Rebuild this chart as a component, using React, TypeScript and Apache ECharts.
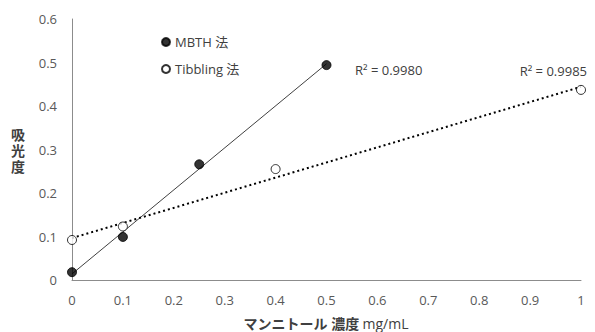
import React, { useEffect, useRef } from "react";
import * as echarts from "echarts";

const mbthX = [0, 0.1, 0.25, 0.5];
const mbthY = [0.018, 0.099, 0.266, 0.494];
const tibX = [0, 0.1, 0.4, 1];
const tibY = [0.092, 0.123, 0.255, 0.437];
const mbthName = "MBTH 法";
const tibName = "Tibbling 法";
const mbthR2 = "R² = 0.9980";
const tibR2 = "R² = 0.9985";
const xTitleBold = "マンニトール 濃度";
const xTitleUnit = "mg/mL";
const yTitle = "吸光度";

function fitLine(xs: number[], ys: number[]) {
  const n = xs.length;
  const mx = xs.reduce((a, b) => a + b, 0) / n;
  const my = ys.reduce((a, b) => a + b, 0) / n;
  let sxx = 0;
  let sxy = 0;
  for (let i = 0; i < n; i++) {
    sxx += (xs[i] - mx) * (xs[i] - mx);
    sxy += (xs[i] - mx) * (ys[i] - my);
  }
  const b = sxy / sxx;
  const a = my - b * mx;
  const x0 = Math.min(...xs);
  const x1 = Math.max(...xs);
  return [
    [x0, a + b * x0],
    [x1, a + b * x1],
  ];
}

const FONT = "'Open Sans', 'Noto Sans CJK JP', sans-serif";

export default function App() {
  const ref = useRef<HTMLDivElement>(null);
  useEffect(() => {
    if (!ref.current) return;
    const chart = echarts.init(ref.current, undefined, { renderer: "svg" });
    const pair = (xs: number[], ys: number[]) => xs.map((x, i) => [x, ys[i]]);
    const yChars = yTitle.split("");
    chart.setOption({
      animation: false,
      textStyle: { fontFamily: FONT },
      grid: {
        left: 72,
        right: 14,
        top: 19,
        bottom: 52,
        containLabel: false,
        outerBoundsMode: "none",
      },
      legend: {
        data: [mbthName, tibName],
        orient: "vertical",
        left: 156,
        top: 30,
        itemWidth: 8,
        itemHeight: 8,
        itemGap: 13,
        icon: "circle",
        textStyle: { fontSize: 13, color: "#404040", fontFamily: FONT, lineHeight: 14 },
      },
      xAxis: {
        type: "value",
        min: 0,
        max: 1,
        interval: 0.1,
        splitLine: { show: false },
        axisTick: { show: false },
        axisLine: { lineStyle: { color: "#8c8c8c", width: 1 } },
        axisLabel: { color: "#595959", fontSize: 13, margin: 13, fontFamily: FONT },
      },
      yAxis: {
        type: "value",
        min: 0,
        max: 0.6,
        interval: 0.1,
        splitLine: { show: false },
        axisTick: { show: false },
        axisLine: { show: true, lineStyle: { color: "#8c8c8c", width: 1 } },
        axisLabel: { color: "#595959", fontSize: 13, margin: 15, fontFamily: FONT },
      },
      graphic: [
        ...yChars.map((c, i) => ({
          type: "text",
          left: 11,
          top: 127 + i * 16,
          style: {
            text: c,
            fontSize: 14,
            fontWeight: "bold",
            fill: "#404040",
            fontFamily: FONT,
          },
        })),
        {
          type: "text",
          x: 326,
          y: 323,
          style: {
            text: `{b|${xTitleBold}} {n|${xTitleUnit}}`,
            align: "center",
            verticalAlign: "middle",
            rich: {
              b: { fontSize: 14, fontWeight: "bold", fill: "#404040", fontFamily: FONT },
              n: { fontSize: 14, fill: "#404040", fontFamily: FONT },
            },
          },
        },
        {
          type: "text",
          left: 355,
          top: 63,
          style: { text: mbthR2, fontSize: 13, fill: "#404040", fontFamily: FONT },
        },
        {
          type: "text",
          right: 8,
          top: 64,
          style: { text: tibR2, fontSize: 13, fill: "#404040", fontFamily: FONT },
        },
      ],
      series: [
        {
          name: "mbthTrend",
          type: "line",
          data: fitLine(mbthX, mbthY),
          symbol: "none",
          lineStyle: { color: "#404040", width: 1, type: "solid" },
          z: 1,
        },
        {
          name: "tibTrend",
          type: "line",
          data: fitLine(tibX, tibY),
          symbol: "none",
          lineStyle: { color: "#000000", width: 2, type: [2, 3] },
          z: 1,
        },
        {
          name: mbthName,
          type: "scatter",
          data: pair(mbthX, mbthY),
          symbol: "circle",
          symbolSize: 9,
          itemStyle: { color: "#000000", borderColor: "#000000", borderWidth: 1 },
          z: 3,
        },
        {
          name: tibName,
          type: "scatter",
          data: pair(tibX, tibY),
          symbol: "circle",
          symbolSize: 9,
          itemStyle: { color: "#ffffff", borderColor: "#000000", borderWidth: 1 },
          z: 3,
        },
      ],
    });
    return () => chart.dispose();
  }, []);
  return (
    <div
      ref={ref}
      style={{ position: "absolute", left: 0, top: 0, width: 595, height: 332 }}
    />
  );
}
